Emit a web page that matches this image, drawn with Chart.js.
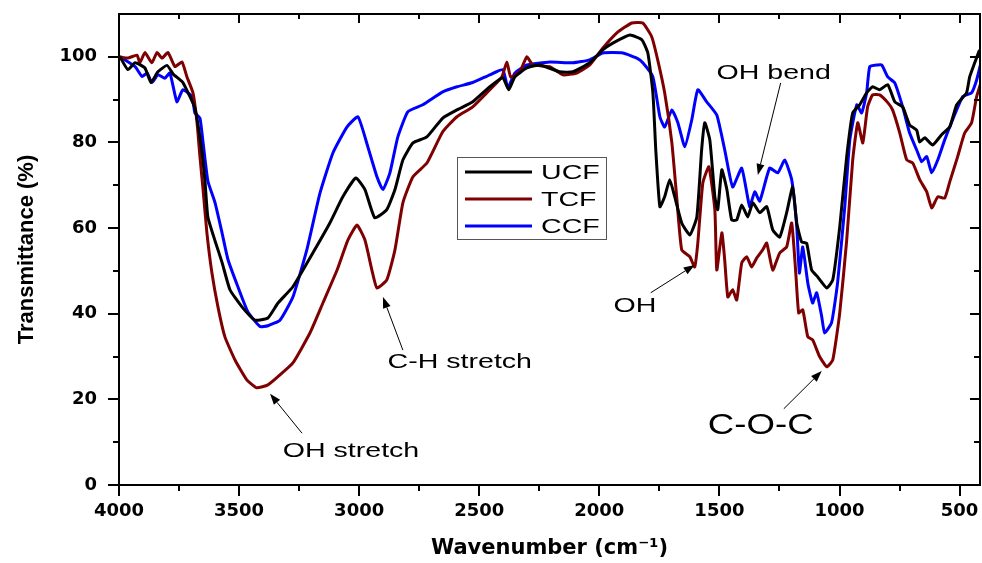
<!DOCTYPE html>
<html>
<head>
<meta charset="utf-8">
<script src="https://cdn.jsdelivr.net/npm/chart.js@4"></script>
<style>
  html, body { margin: 0; padding: 0; background: #fff; }
</style>
</head>
<body>
<canvas id="ftir" width="982" height="563"></canvas>
<script>
// Espectros FTIR (numero de onda en cm-1, transmitancia en %)
const ucfX = [3996, 3963, 3933, 3892, 3867, 3838, 3800, 3775, 3754, 3734, 3684, 3655, 3642, 3630, 3600, 3571, 3538, 3488, 3434, 3380, 3338, 3276, 3193, 3122, 3068, 3014, 2976, 2935, 2885, 2851, 2818, 2776, 2718, 2652, 2593, 2527, 2456, 2402, 2377, 2352, 2302, 2248, 2165, 2110, 2040, 1986, 1944, 1873, 1823, 1798, 1777, 1765, 1748, 1728, 1707, 1686, 1657, 1623, 1594, 1574, 1561, 1540, 1519, 1507, 1490, 1469, 1449, 1428, 1407, 1382, 1361, 1332, 1303, 1278, 1249, 1220, 1195, 1178, 1158, 1137, 1116, 1091, 1053, 1028, 999, 970, 945, 916, 887, 862, 833, 799, 770, 737, 708, 679, 666, 645, 612, 575, 541, 512, 471, 458, 437, 417];
const ucfY = [100, 97, 98.6, 97.4, 94, 96.5, 98, 96, 95, 94, 88, 78, 71, 62.6, 57, 52, 45.6, 41.6, 38.5, 39, 42.5, 46.3, 54.2, 61.2, 67.3, 71.7, 69, 62.4, 64.3, 69, 75.9, 79.9, 81.3, 85.7, 87.6, 89.5, 93, 95.1, 92.3, 95.3, 97.4, 98.1, 96.5, 96.5, 98.6, 101.6, 103.2, 105.1, 104, 100.9, 91.6, 78.3, 65, 67.3, 71.3, 67.3, 61.2, 58.4, 62.6, 78.3, 84.6, 80.6, 67.3, 64.3, 73.6, 69, 61.9, 61.9, 65.4, 62.6, 65.9, 63.6, 65, 59.6, 57.9, 63.6, 69.6, 61.2, 56.8, 56.5, 50.2, 48.6, 46, 47.9, 60.3, 76.7, 86.9, 88.8, 91.6, 93, 92.3, 93.5, 89.5, 88.3, 84.1, 82.9, 80.1, 81.1, 79.4, 81.8, 83.6, 88.8, 91.6, 95.3, 98.6, 101.6];

const tcfX = [3996, 3963, 3925, 3913, 3892, 3863, 3842, 3821, 3796, 3767, 3738, 3717, 3692, 3675, 3663, 3650, 3634, 3613, 3588, 3559, 3517, 3467, 3426, 3380, 3338, 3276, 3205, 3151, 3092, 3047, 3009, 2976, 2947, 2926, 2885, 2851, 2818, 2776, 2718, 2652, 2593, 2527, 2456, 2406, 2385, 2369, 2331, 2302, 2277, 2206, 2152, 2094, 2040, 1986, 1927, 1865, 1819, 1782, 1757, 1728, 1698, 1678, 1657, 1623, 1603, 1590, 1569, 1544, 1519, 1511, 1490, 1478, 1465, 1445, 1428, 1407, 1386, 1366, 1345, 1320, 1303, 1278, 1249, 1220, 1199, 1182, 1170, 1153, 1132, 1112, 1083, 1053, 1028, 999, 970, 945, 924, 903, 883, 862, 833, 799, 779, 749, 720, 695, 666, 637, 616, 591, 562, 541, 508, 479, 450, 429, 408];
const tcfY = [100, 99.7, 100.4, 98.6, 101, 98.6, 101, 99.7, 101, 97.7, 98.8, 95.3, 91.6, 84.6, 76.7, 69, 58.9, 49.5, 41.6, 34.6, 29.2, 24.5, 22.7, 23.4, 25.3, 28.5, 35.5, 42.5, 50.2, 57.2, 60.7, 57.2, 50.2, 46, 47.9, 54.9, 65.9, 72, 75.2, 82.5, 86, 88.3, 92.3, 95.3, 98.8, 95.3, 96.5, 100, 98.1, 97.7, 95.8, 96.2, 98.1, 102, 105.6, 107.9, 107.9, 104.7, 99.3, 91.6, 79.9, 67.3, 54.9, 53.3, 50.9, 56.5, 70.6, 74.3, 64.3, 50.2, 58.9, 52.6, 43.9, 45.6, 43.2, 51.9, 53.3, 50.9, 53, 54.9, 56.5, 50.2, 54.2, 55.6, 61.2, 49.5, 40.2, 40.9, 34.6, 33.9, 30, 27.6, 29.2, 40.2, 57.2, 75.9, 84.6, 79.9, 88.3, 91.1, 91.1, 89.3, 87.6, 82.2, 75.9, 75.2, 71.3, 68.5, 64.7, 67.3, 67, 70.8, 76.7, 82.2, 84.6, 90.7, 94.6];

const ccfX = [3996, 3933, 3904, 3883, 3863, 3838, 3809, 3788, 3759, 3734, 3696, 3684, 3663, 3650, 3630, 3600, 3571, 3546, 3505, 3463, 3413, 3380, 3330, 3276, 3218, 3163, 3109, 3051, 3005, 2964, 2926, 2901, 2872, 2839, 2797, 2735, 2652, 2593, 2527, 2456, 2402, 2381, 2352, 2302, 2206, 2110, 2040, 1986, 1902, 1844, 1819, 1777, 1748, 1728, 1698, 1673, 1644, 1615, 1590, 1553, 1511, 1478, 1445, 1407, 1374, 1353, 1332, 1291, 1257, 1228, 1199, 1178, 1167, 1153, 1132, 1112, 1095, 1074, 1062, 1033, 1008, 978, 957, 928, 908, 887, 874, 841, 824, 799, 770, 737, 708, 679, 658, 637, 616, 591, 562, 529, 487, 450, 429, 408];
const ccfY = [100, 97.7, 95.4, 96.2, 94, 95.8, 95, 96.2, 89.5, 92.3, 90.7, 86.9, 85.7, 80, 71, 65.9, 58.9, 52.6, 46.3, 40.4, 37, 37.2, 38.5, 43.9, 54.9, 68.2, 77.6, 83.6, 86, 79, 72, 69, 72.9, 81.3, 87.2, 88.8, 91.8, 93, 94, 95.8, 97, 92.8, 96.2, 98.1, 98.8, 98.6, 99.3, 100.9, 100.9, 99.7, 98.6, 95.3, 86, 83.6, 87.6, 84.6, 79, 85.3, 92.3, 89.5, 86.4, 78.3, 69.6, 74, 65, 68.5, 66.3, 74, 72.9, 75.9, 71.3, 60.3, 49.5, 55.6, 47.2, 42.5, 44.9, 39.3, 35.5, 37.9, 47.2, 65, 80.6, 88.8, 86.9, 91.6, 97.7, 98.1, 98.1, 95.3, 93.9, 88.3, 82.2, 78.3, 75.5, 76.7, 72.9, 75.9, 80.6, 85.3, 90.7, 91.6, 94.6, 99.3];

const seriesNames = ['UCF', 'TCF', 'CCF'];
const seriesColors = ['#000000', '#7f0000', '#0000ff'];

const xTickValues = [4000, 3500, 3000, 2500, 2000, 1500, 1000, 500];
const xMinorValues = [3750, 3250, 2750, 2250, 1750, 1250, 750];
const yTickValues = [0, 20, 40, 60, 80, 100];
const yMinorValues = [10, 30, 50, 70, 90];

// Anotaciones: texto en (x, y) y flecha desde (x1, y1) hasta la punta (x2, y2)
const noteTexts = ['OH stretch', 'C-H stretch', 'OH', 'OH bend', 'C-O-C'];
const noteAt = [[3034, 7.9], [2581, 28.7], [1852, 41.8], [1274, 96.1], [1328, 13.8]];
const noteArrows = [
    [3238, 12.1, 3371, 21.3],
    [2818, 31.5, 2901, 43.9],
    [1786, 44.9, 1603, 51.4],
    [1245, 93.9, 1340, 72.4],
    [1232, 17.8, 1074, 26.6]
];

function pares(xs, ys) {
    return xs.map((v, i) => ({ x: v, y: ys[i] }));
}

// Texto estirado en horizontal, como en la figura original
function textoAncho(ctx, texto, cx, cy, sx, align) {
    ctx.save();
    ctx.translate(cx, cy);
    ctx.scale(sx, 1);
    ctx.textAlign = align;
    ctx.textBaseline = 'middle';
    ctx.fillText(texto, 0, 0);
    ctx.restore();
}

function flecha(ctx, x1, y1, x2, y2) {
    const ang = Math.atan2(y2 - y1, x2 - x1);
    const largo = 11, ancho = 4;
    const bx = x2 - largo * Math.cos(ang), by = y2 - largo * Math.sin(ang);
    ctx.beginPath();
    ctx.moveTo(x1, y1);
    ctx.lineTo(bx, by);
    ctx.lineWidth = 1;
    ctx.strokeStyle = '#000';
    ctx.stroke();
    ctx.beginPath();
    ctx.moveTo(x2, y2);
    ctx.lineTo(bx + ancho * Math.sin(ang), by - ancho * Math.cos(ang));
    ctx.lineTo(bx - ancho * Math.sin(ang), by + ancho * Math.cos(ang));
    ctx.closePath();
    ctx.fillStyle = '#000';
    ctx.fill();
}

function sinRelleno(s) {
    s.paddingLeft = 0;
    s.paddingRight = 0;
    s.paddingTop = 0;
    s.paddingBottom = 0;
}

const marcoPlugin = {
    id: 'marco',
    afterDatasetsDraw(chart) {
        const { ctx, chartArea: a, scales: { x, y } } = chart;
        ctx.save();
        ctx.strokeStyle = '#000';
        ctx.lineWidth = 2;
        ctx.strokeRect(a.left, a.top, a.right - a.left, a.bottom - a.top);

        ctx.beginPath();
        xTickValues.concat(xMinorValues).forEach(v => {
            const px = Math.round(x.getPixelForValue(v));
            const mayor = xTickValues.includes(v);
            ctx.moveTo(px, a.bottom);
            ctx.lineTo(px, a.bottom + (mayor ? 11 : 6));
            ctx.moveTo(px, a.top);
            ctx.lineTo(px, a.top + (mayor ? 9 : 5));
        });
        yTickValues.concat(yMinorValues).forEach(v => {
            const py = Math.round(y.getPixelForValue(v));
            const mayor = yTickValues.includes(v);
            ctx.moveTo(a.left, py);
            ctx.lineTo(a.left - (mayor ? 11 : 6), py);
            ctx.moveTo(a.right, py);
            ctx.lineTo(a.right - (mayor ? 10 : 6), py);
        });
        ctx.stroke();

        // Anotaciones
        ctx.fillStyle = '#000';
        noteTexts.forEach((t, i) => {
            const grande = t === 'C-O-C';
            ctx.font = (grande ? '30px' : '21px') + ' "Liberation Sans", Arial, sans-serif';
            textoAncho(ctx, t, x.getPixelForValue(noteAt[i][0]), y.getPixelForValue(noteAt[i][1]),
                grande ? 1.22 : 1.36, 'center');
            const f = noteArrows[i];
            flecha(ctx, x.getPixelForValue(f[0]), y.getPixelForValue(f[1]),
                x.getPixelForValue(f[2]), y.getPixelForValue(f[3]));
        });

        // Leyenda
        const lx = 457, ly = 157, lw = 149, lh = 82;
        ctx.fillStyle = '#fff';
        ctx.fillRect(lx, ly, lw, lh);
        ctx.lineWidth = 1;
        ctx.strokeStyle = '#555';
        ctx.strokeRect(lx + 0.5, ly + 0.5, lw, lh);
        ctx.font = '21px "Liberation Sans", Arial, sans-serif';
        seriesNames.forEach((n, i) => {
            const yy = ly + 15 + i * 27;
            ctx.beginPath();
            ctx.moveTo(lx + 8, yy);
            ctx.lineTo(lx + 75, yy);
            ctx.lineWidth = 3;
            ctx.strokeStyle = seriesColors[i];
            ctx.stroke();
            ctx.fillStyle = '#000';
            textoAncho(ctx, n, lx + 84, yy + 1, 1.36, 'left');
        });
        ctx.restore();
    }
};

const datos = [pares(ucfX, ucfY), pares(tcfX, tcfY), pares(ccfX, ccfY)];

new Chart(document.getElementById('ftir'), {
    type: 'line',
    data: {
        datasets: seriesNames.map((n, i) => ({
            label: n,
            data: datos[i],
            borderColor: seriesColors[i],
            borderWidth: 3,
            pointRadius: 0,
            tension: 0.15,
            fill: false
        }))
    },
    options: {
        responsive: false,
        animation: false,
        layout: { padding: { top: 14, right: 2, left: 0, bottom: 0 } },
        plugins: { legend: { display: false }, tooltip: { enabled: false } },
        scales: {
            x: {
                type: 'linear',
                reverse: true,
                min: 415,
                max: 4000,
                grid: { display: false, drawTicks: false },
                border: { display: false },
                afterBuildTicks: s => { s.ticks = xTickValues.map(v => ({ value: v })); },
                afterFit: s => { s.height = 78; sinRelleno(s); },
                ticks: {
                    padding: 16,
                    maxRotation: 0,
                    color: '#000',
                    font: { family: '"DejaVu Sans"', size: 18, weight: 'bold' },
                    callback: v => String(v)
                },
                title: {
                    display: true,
                    text: 'Wavenumber (cm⁻¹)',
                    color: '#000',
                    font: { family: '"DejaVu Sans"', size: 21, weight: 'bold' },
                    padding: { top: 0, bottom: 2 }
                }
            },
            y: {
                min: 0,
                max: 110,
                grid: { display: false, drawTicks: false },
                border: { display: false },
                afterBuildTicks: s => { s.ticks = yTickValues.map(v => ({ value: v })); },
                afterFit: s => { s.width = 119; sinRelleno(s); },
                ticks: {
                    padding: 22,
                    color: '#000',
                    font: { family: '"DejaVu Sans"', size: 18, weight: 'bold' },
                    callback: v => String(v)
                },
                title: {
                    display: true,
                    text: 'Transmittance (%)',
                    color: '#000',
                    font: { family: '"Liberation Sans"', size: 22, weight: 'bold' },
                    padding: { top: 14, bottom: 0 }
                }
            }
        }
    },
    plugins: [marcoPlugin]
});
</script>
</body>
</html>
